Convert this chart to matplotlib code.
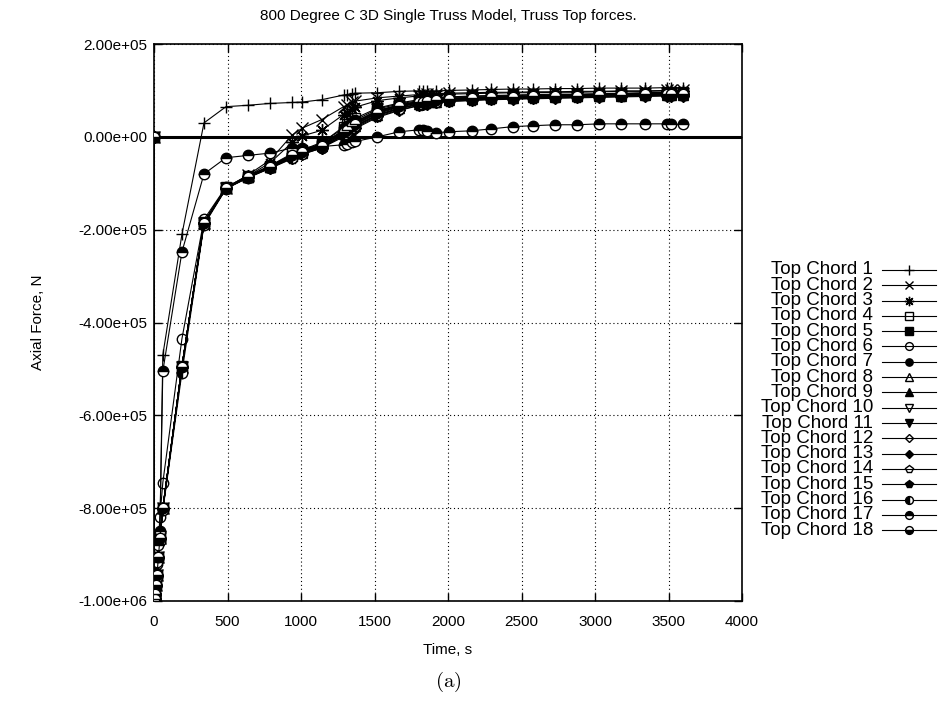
import matplotlib
matplotlib.use("Agg")
import matplotlib.pyplot as plt
from matplotlib.lines import Line2D
from matplotlib.ticker import FuncFormatter, MultipleLocator

plt.rcParams["font.family"] = ["Liberation Sans", "DejaVu Sans"]
plt.rcParams["mathtext.fontset"] = "cm"

# ---- data (time in s, axial force in kN) ---------------------------
time_s = [0, 3, 6, 10, 15, 20, 30, 40, 60, 190, 340, 490, 640, 790, 940, 1010,
          1140, 1290, 1310, 1350, 1370, 1520, 1670, 1800, 1830, 1860, 1920,
          2010, 2160, 2290, 2440, 2580, 2730, 2880, 3030, 3180, 3340, 3490,
          3520, 3600]

chord_1 = [0, -1000, -985, -965, -940, -915, -880, -850, -470, -210, 30, 65, 68,
           72, 74, 75, 80, 90, 91, 93, 94, 95, 98, 99, 99, 99, 99, 100, 101, 102,
           103, 103, 104, 104, 105, 105, 105, 106, 106, 106]
chord_2 = [0, -1000, -995, -985, -965, -945, -905, -865, -800, -495, -185, -110,
           -82, -50, 4, 19, 37, 65, 68, 74, 77, 84, 88, 91, 92, 92, 93, 94, 95,
           96, 96, 97, 97, 98, 98, 99, 99, 100, 100, 100]
chord_3 = [0, -1000, -995, -985, -965, -945, -905, -865, -800, -495, -185, -110,
           -84, -56, -12, 2, 14, 48, 52, 60, 64, 78, 84, 88, 89, 90, 91, 92, 93,
           94, 95, 95, 96, 96, 97, 98, 98, 99, 99, 99]
chord_4 = [0, -1000, -995, -985, -965, -945, -905, -865, -800, -495, -186, -111,
           -86, -63, -38, -29, -14, 22, 27, 35, 40, 62, 73, 80, 81, 82, 84, 86, 88,
           89, 90, 91, 92, 92, 93, 94, 95, 96, 96, 96]
chord_5 = [0, -1000, -995, -985, -965, -945, -905, -865, -800, -495, -187, -110,
           -86, -64, -41, -32, -18, 14, 19, 27, 32, 55, 68, 76, 78, 79, 81, 83, 85,
           86, 87, 88, 89, 90, 91, 92, 93, 94, 94, 94]
chord_6 = [0, -1000, -990, -975, -950, -920, -870, -820, -745, -435, -178, -108,
           -84, -62, -36, -28, -12, 18, 23, 31, 36, 60, 71, 78, 80, 81, 83, 85, 87,
           88, 89, 90, 91, 91, 92, 93, 94, 95, 95, 95]
chord_7 = [0, -1000, -995, -985, -966, -946, -906, -866, -801, -496, -186, -110,
           -87, -66, -44, -35, -21, 8, 13, 21, 26, 50, 64, 73, 75, 76, 78, 80, 82,
           84, 85, 86, 87, 88, 89, 90, 91, 92, 92, 92]
chord_8 = [0, -1000, -995, -985, -965, -945, -905, -865, -800, -494, -185, -109,
           -85, -64, -40, -31, -17, 12, 17, 25, 30, 54, 67, 75, 77, 78, 80, 82, 84,
           85, 86, 87, 88, 89, 90, 91, 92, 93, 93, 93]
chord_9 = [0, -1000, -995, -985, -965, -945, -905, -865, -800, -495, -186, -110,
           -86, -65, -42, -34, -20, 6, 11, 19, 24, 48, 62, 71, 73, 74, 76, 79, 81,
           83, 84, 85, 86, 87, 88, 89, 90, 91, 91, 91]
chord_10 = [0, -1000, -995, -985, -965, -945, -905, -865, -800, -494, -184, -109,
            -85, -63, -39, -30, -16, 15, 20, 28, 33, 57, 69, 76, 78, 79, 81, 83,
            85, 86, 87, 88, 89, 90, 91, 92, 93, 94, 94, 94]
chord_11 = [0, -1000, -995, -986, -967, -947, -907, -867, -802, -496, -187, -111,
            -87, -66, -45, -36, -22, 4, 9, 17, 22, 46, 60, 70, 72, 73, 75, 78, 80,
            82, 83, 84, 85, 86, 87, 88, 89, 90, 90, 90]
chord_12 = [0, -1000, -995, -985, -965, -945, -905, -865, -800, -495, -185, -110,
            -86, -64, -41, -32, -18, 10, 15, 23, 28, 52, 65, 74, 76, 77, 79, 81,
            83, 85, 86, 87, 88, 89, 90, 91, 92, 93, 93, 93]
chord_13 = [0, -1000, -995, -986, -967, -947, -907, -867, -802, -496, -186, -111,
            -87, -67, -46, -37, -23, 2, 7, 15, 20, 44, 58, 68, 70, 71, 74, 77, 79,
            81, 82, 83, 84, 85, 86, 87, 88, 89, 89, 89]
chord_14 = [0, -1000, -995, -985, -965, -945, -905, -865, -800, -495, -185, -110,
            -85, -63, -40, -31, -17, 13, 18, 26, 31, 56, 68, 75, 77, 78, 80, 82,
            84, 85, 86, 87, 88, 89, 90, 91, 92, 93, 93, 93]
chord_15 = [0, -1000, -995, -986, -968, -948, -908, -868, -803, -496, -187, -111,
            -88, -68, -47, -38, -24, 0, 5, 13, 18, 42, 57, 67, 69, 70, 73, 76, 78,
            80, 81, 82, 83, 84, 85, 86, 87, 88, 88, 88]
chord_16 = [0, -1000, -995, -985, -968, -948, -910, -870, -805, -508, -190, -112,
            -88, -67, -45, -36, -25, 5, 10, 18, 23, 47, 61, 71, 73, 74, 76, 79, 81,
            83, 84, 85, 86, 87, 88, 89, 90, 91, 91, 91]
chord_17 = [0, -1000, -985, -965, -940, -915, -880, -850, -505, -248, -80, -45,
            -40, -35, -24, -23, -21, -17, -15, -12, -10, 0, 11, 15, 15, 13, 9, 11,
            13, 17, 22, 24, 26, 26, 28, 28, 28, 28, 27, 27]
chord_18 = [0, -1000, -995, -985, -965, -945, -905, -865, -800, -495, -185, -110,
            -86, -64, -40, -32, -19, 10, 15, 23, 28, 52, 66, 74, 76, 77, 79, 81,
            83, 85, 86, 87, 88, 89, 90, 91, 92, 93, 93, 93]

labels = [f"Top Chord {i}" for i in range(1, 19)]
series = [chord_1, chord_2, chord_3, chord_4, chord_5, chord_6, chord_7, chord_8,
          chord_9, chord_10, chord_11, chord_12, chord_13, chord_14, chord_15,
          chord_16, chord_17, chord_18]

# gnuplot-like point types: (marker, filled, fillstyle)
styles = [("+", False, "full"), ("x", False, "full"), ((8, 2, 0), False, "full"),
          ("s", False, "full"), ("s", True, "full"), ("o", False, "full"),
          ("o", True, "full"), ("^", False, "full"), ("^", True, "full"),
          ("v", False, "full"), ("v", True, "full"), ("D", False, "full"),
          ("D", True, "full"), ("p", False, "full"), ("p", True, "full"),
          ("o", False, "left"), ("o", True, "top"), ("o", True, "bottom")]
msizes = [9, 8, 9, 7, 7, 7.5, 7, 7, 7, 7, 7, 6, 6, 7.5, 7.5, 7.5, 7.5, 7.5]


def mstyle(i, size):
    m, filled, fs = styles[i]
    kw = dict(marker=m, markersize=size, markeredgecolor="black",
              markeredgewidth=1.0, color="black", linewidth=0.8)
    if fs in ("top", "bottom", "left"):
        kw.update(fillstyle=fs, markerfacecolor="black",
                  markerfacecoloralt="white")
    else:
        kw.update(markerfacecolor="black" if filled else "none")
    return kw


fig = plt.figure(figsize=(9.44, 7.2), dpi=100)
ax = fig.add_axes([154 / 944, 1 - 601 / 720, (742 - 154) / 944, (601 - 44) / 720])

for i, vals in enumerate(series):
    ax.plot(time_s, [v * 1e3 for v in vals], **mstyle(i, msizes[i]), zorder=3)

ax.axhline(0, color="black", linewidth=2.2, zorder=2)
ax.set_xlim(0, 4000)
ax.set_ylim(-1e6, 2e5)
ax.xaxis.set_major_locator(MultipleLocator(500))
ax.yaxis.set_major_locator(MultipleLocator(2e5))
ax.yaxis.set_major_formatter(FuncFormatter(lambda v, p: f"{v:.2e}"))
ax.grid(True, color="black", linestyle=(0, (1, 2.5)), linewidth=0.8)
ax.tick_params(direction="in", length=6, width=1, top=True, right=True,
               labelsize=11)
ax.tick_params(axis="y", pad=5)
ax.tick_params(axis="x", pad=10)
for sp in ax.spines.values():
    sp.set_linewidth(1.2)

ax.set_xlabel("Time, s", fontsize=11, labelpad=10)
ax.set_ylabel("Axial Force, N", fontsize=11, labelpad=24)
ax.set_title("800 Degree C 3D Single Truss Model, Truss Top forces.",
             fontsize=11, pad=17)

# gnuplot style key on the right: text right-aligned, sample after it
for i, lab in enumerate(labels):
    yy = 1 - (270 + i * 15.3) / 720
    fig.text(873 / 944, yy, lab, ha="right", va="center", fontsize=13.5)
    kw = mstyle(i, msizes[i] * 0.75)
    fig.add_artist(Line2D([882 / 944, 909 / 944, 936 / 944], [yy, yy, yy],
                          transform=fig.transFigure, **kw, markevery=[1]))

fig.text(448 / 944, 1 - 682 / 720, r"$\mathrm{(a)}$", ha="center", va="center",
         fontsize=15)

fig.savefig("out.png", dpi=100)
